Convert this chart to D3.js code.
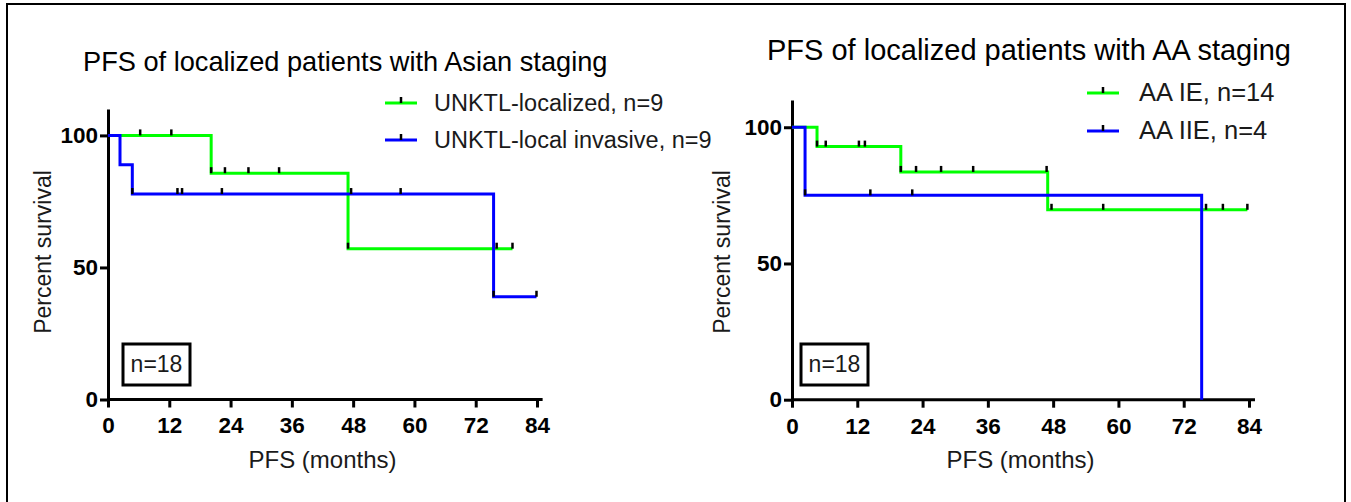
<!DOCTYPE html>
<html lang="en">
<head>
    <meta charset="UTF-8">
    <title>PFS of localized patients</title>
    <script src="https://d3js.org/d3.v7.min.js"></script>
    <style>
        body { margin: 0; background: #fff; }
        text { font-family: "Liberation Sans", Arial, sans-serif; }
    </style>
</head>
<body>
    <svg id="chart" width="1351" height="502"></svg>
    <script>
        // tick labels
        const xTicks = [0, 12, 24, 36, 48, 60, 72, 84];
        const yTicks = [0, 50, 100];

        // left panel: Asian staging
        const asianTitle = "PFS of localized patients with Asian staging";
        const asianNames = ["UNKTL-localized, n=9", "UNKTL-local invasive, n=9"];
        const asianGreenTime = [0, 20.2, 47.0, 79.2];
        const asianGreenSurv = [100, 85.7, 57.1, 57.1];
        const asianGreenCensor = [6.3, 12.4, 20.2, 22.9, 27.5, 33.5, 47.0, 76.1, 79.2];
        const asianBlueTime = [0, 2.35, 4.76, 75.5, 83.9];
        const asianBlueSurv = [100, 88.9, 77.8, 38.9, 38.9];
        const asianBlueCensor = [4.76, 13.6, 14.5, 22.3, 47.6, 57.3, 75.5, 83.9];

        // right panel: AA staging
        const aaTitle = "PFS of localized patients with AA staging";
        const aaNames = ["AA IE, n=14", "AA IIE, n=4"];
        const aaGreenTime = [0, 4.6, 20.0, 47.0, 83.7];
        const aaGreenSurv = [100, 92.9, 83.6, 69.7, 69.7];
        const aaGreenCensor = [4.6, 6.2, 12.3, 13.4, 20.0, 22.8, 27.4, 33.3, 46.8, 47.7, 57.2, 76.1, 79.2, 83.7];
        const aaBlueTime = [0, 2.4, 75.3];
        const aaBlueSurv = [100, 75, 0];
        const aaBlueCensor = [2.4, 14.4, 22.1];

        const totalLabel = "n=18";
        const colors = ["#00ff00", "#0000ff"];

        const svg = d3.select("#chart");

        // outer frame
        svg.append("path")
            .attr("d", "M7,502V4H1345V502")
            .attr("fill", "none")
            .attr("stroke", "#000")
            .attr("stroke-width", 2);

        function survAt(times, surv, t) {
            let i = d3.bisectRight(times, t) - 1;
            return surv[Math.max(0, i)];
        }

        function panel(p) {
            const x = d3.scaleLinear().domain([0, 84]).range([p.x0, p.x84]);
            const y = d3.scaleLinear().domain([0, 110]).range([p.y0, p.yTop]);

            svg.append("text")
                .attr("x", p.titleX)
                .attr("y", p.titleY)
                .attr("font-size", p.titleSize)
                .attr("fill", "#000")
                .text(p.title);

            // axes
            const gx = svg.append("g")
                .attr("transform", `translate(0,${p.y0})`)
                .call(d3.axisBottom(x).tickValues(xTicks).tickSize(8).tickSizeOuter(0).tickPadding(10));
            gx.select(".domain").attr("d", `M${p.x0},0H${x(85.1)}`);

            const gy = svg.append("g")
                .attr("transform", `translate(${p.x0},0)`)
                .call(d3.axisLeft(y).tickValues(yTicks).tickSize(8).tickSizeOuter(0).tickPadding(2));

            [gx, gy].forEach(g => {
                g.selectAll("path, line").attr("stroke", "#000").attr("stroke-width", 3);
                g.selectAll("text")
                    .attr("font-size", 22.5)
                    .attr("font-weight", "bold")
                    .attr("fill", "#000")
                    .style("font-family", "'Liberation Sans', Arial, sans-serif");
            });

            svg.append("text")
                .attr("x", (p.x0 + p.x84) / 2)
                .attr("y", p.y0 + 68)
                .attr("text-anchor", "middle")
                .attr("font-size", 24)
                .attr("fill", "#1a1a1a")
                .text("PFS (months)");

            svg.append("text")
                .attr("transform", `translate(${p.yLabelX},252) rotate(-90)`)
                .attr("text-anchor", "middle")
                .attr("font-size", 23)
                .attr("fill", "#1a1a1a")
                .text("Percent survival");

            // curves
            const line = d3.line()
                .x(d => x(d[0]))
                .y(d => y(d[1]))
                .curve(d3.curveStepAfter);

            p.series.forEach((s, i) => {
                const pts = s.time.map((t, j) => [t, s.surv[j]]);
                svg.append("path")
                    .datum(pts)
                    .attr("d", line)
                    .attr("fill", "none")
                    .attr("stroke", colors[i])
                    .attr("stroke-width", 3);
            });

            p.series.forEach(s => {
                svg.selectAll(null)
                    .data(s.censor)
                    .enter()
                    .append("line")
                    .attr("x1", d => x(d))
                    .attr("x2", d => x(d))
                    .attr("y1", d => y(survAt(s.time, s.surv, d)) - 6)
                    .attr("y2", d => y(survAt(s.time, s.surv, d)))
                    .attr("stroke", "#000")
                    .attr("stroke-width", 2.5);
            });

            // legend
            p.names.forEach((name, i) => {
                const ly = p.legY + i * p.legStep;
                svg.append("line")
                    .attr("x1", p.legX).attr("x2", p.legX + 32)
                    .attr("y1", ly).attr("y2", ly)
                    .attr("stroke", colors[i])
                    .attr("stroke-width", 3);
                svg.append("line")
                    .attr("x1", p.legX + 16).attr("x2", p.legX + 16)
                    .attr("y1", ly - 6).attr("y2", ly)
                    .attr("stroke", "#000")
                    .attr("stroke-width", 2.5);
                svg.append("text")
                    .attr("x", p.legX + p.legGap)
                    .attr("y", ly + 8)
                    .attr("font-size", p.legSize)
                    .attr("fill", "#1a1a1a")
                    .text(name);
            });

            // n box
            svg.append("rect")
                .attr("x", p.boxX).attr("y", 344)
                .attr("width", 67).attr("height", 41)
                .attr("fill", "#fff")
                .attr("stroke", "#000")
                .attr("stroke-width", 3);
            svg.append("text")
                .attr("x", p.boxX + 33.5)
                .attr("y", 372)
                .attr("text-anchor", "middle")
                .attr("font-size", 23)
                .attr("fill", "#1a1a1a")
                .text(totalLabel);
        }

        panel({
            title: asianTitle, titleX: 83, titleY: 71, titleSize: 27.2,
            x0: 108, x84: 537, y0: 399.5, yTop: 109, yLabelX: 51,
            names: asianNames, legX: 385, legY: 103, legStep: 37, legSize: 23.5, legGap: 49,
            boxX: 123,
            series: [
                {time: asianGreenTime, surv: asianGreenSurv, censor: asianGreenCensor},
                {time: asianBlueTime, surv: asianBlueSurv, censor: asianBlueCensor}
            ]
        });

        panel({
            title: aaTitle, titleX: 767, titleY: 60, titleSize: 29,
            x0: 792, x84: 1249, y0: 399.7, yTop: 100, yLabelX: 730,
            names: aaNames, legX: 1087, legY: 93, legStep: 38, legSize: 25.5, legGap: 52,
            boxX: 801,
            series: [
                {time: aaGreenTime, surv: aaGreenSurv, censor: aaGreenCensor},
                {time: aaBlueTime, surv: aaBlueSurv, censor: aaBlueCensor}
            ]
        });
    </script>
</body>
</html>
